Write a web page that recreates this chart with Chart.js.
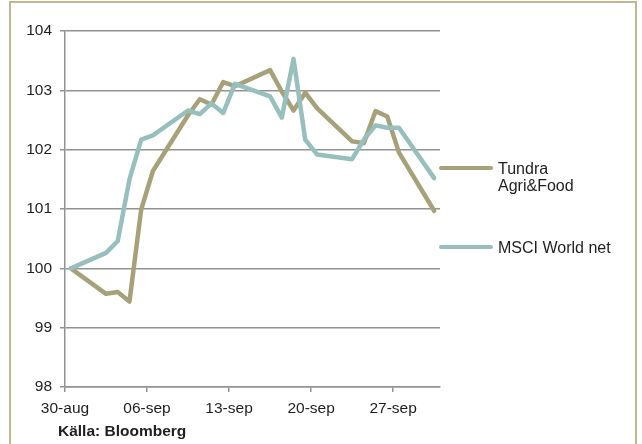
<!DOCTYPE html>
<html>
<head>
<meta charset="utf-8">
<script src="https://cdn.jsdelivr.net/npm/chart.js@4/dist/chart.umd.min.js"></script>
<style>
    html, body {
        margin: 0;
        padding: 0;
        background: #ffffff;
        font-family: "Liberation Sans", Arial, sans-serif;
    }
    #wrap {
        position: relative;
        width: 642px;
        height: 444px;
        overflow: hidden;
    }
    #frame {
        position: absolute;
        left: 9px;
        top: 1px;
        width: 624px;
        height: 460px;
        border: 2px solid #bdb88f;
        border-bottom: none;
    }
    #chart {
        position: absolute;
        left: 0;
        top: 0;
    }
    .legend-item {
        position: absolute;
        left: 439px;
        font-size: 16px;
        line-height: 17px;
        color: #1e1e1e;
    }
    .legend-item .swatch {
        position: absolute;
        left: 0;
        top: 6px;
        width: 54px;
        height: 4px;
        border-radius: 2px;
    }
    .legend-item .text {
        margin-left: 59px;
        white-space: nowrap;
    }
    #source {
        position: absolute;
        left: 58px;
        top: 422px;
        font-size: 15.5px;
        font-weight: bold;
        color: #1e1e1e;
    }
</style>
</head>
<body>
<div id="wrap">
    <div id="frame"></div>
    <canvas id="chart" width="642" height="444"></canvas>
    <div id="legend"></div>
    <div id="source">Källa: Bloomberg</div>
</div>
<script>
const startDate = "2013-08-30";
const dates = [
    "2013-08-30", "2013-09-02", "2013-09-03", "2013-09-04", "2013-09-05", "2013-09-06",
    "2013-09-09", "2013-09-10", "2013-09-11", "2013-09-12", "2013-09-13",
    "2013-09-16", "2013-09-17", "2013-09-18", "2013-09-19", "2013-09-20",
    "2013-09-23", "2013-09-24", "2013-09-25", "2013-09-26", "2013-09-27",
    "2013-09-30"
];
const tundra = [
    100.00, 99.57, 99.60, 99.44, 100.99, 101.64,
    102.58, 102.85, 102.76, 103.14, 103.07,
    103.34, 102.98, 102.66, 102.96, 102.70,
    102.14, 102.11, 102.65, 102.56, 101.95,
    100.97
];
const msciWorld = [
    100.00, 100.26, 100.46, 101.50, 102.17, 102.24,
    102.66, 102.60, 102.78, 102.62, 103.11,
    102.90, 102.54, 103.53, 102.17, 101.92,
    101.84, 102.17, 102.41, 102.37, 102.37,
    101.52
];
const seriesNames = [["Tundra", "Agri&Food"], ["MSCI World net"]];
const seriesColors = ["#a6a178", "#97bfbd"];
const tickDays = [0, 7, 14, 21, 28];
const tickLabels = ["30-aug", "06-sep", "13-sep", "20-sep", "27-sep"];

const fontFamily = '"Liberation Sans", Arial, sans-serif';
const gridColor = "#929292";

// days since start, centred in the day like the original date axis
function dayOf(d) {
    return (Date.parse(d) - Date.parse(startDate)) / 864e5 + 0.5;
}

function toPoints(values) {
    return dates.map((d, i) => ({ x: dayOf(d), y: values[i] }));
}

const ctx = document.getElementById("chart").getContext("2d");
new Chart(ctx, {
    type: "line",
    data: {
        datasets: [{
            label: seriesNames[0].join(" "),
            data: toPoints(tundra),
            borderColor: seriesColors[0],
            borderWidth: 4.5,
            borderJoinStyle: "round",
            borderCapStyle: "round",
            pointRadius: 0,
            tension: 0,
            fill: false,
            order: 1
        }, {
            label: seriesNames[1].join(" "),
            data: toPoints(msciWorld),
            borderColor: seriesColors[1],
            borderWidth: 4.5,
            borderJoinStyle: "round",
            borderCapStyle: "round",
            pointRadius: 0,
            tension: 0,
            fill: false,
            order: 0
        }]
    },
    options: {
        responsive: false,
        animation: false,
        layout: {
            padding: { top: 31, right: 202, bottom: 0, left: 0 }
        },
        plugins: {
            legend: { display: false },
            tooltip: { enabled: false }
        },
        scales: {
            x: {
                type: "linear",
                min: 0,
                max: 32,
                afterBuildTicks: (scale) => {
                    scale.ticks = tickDays.map(v => ({ value: v }));
                },
                afterFit: (scale) => {
                    scale.height = 57;
                },
                ticks: {
                    callback: (value) => tickLabels[tickDays.indexOf(value)],
                    autoSkip: false,
                    maxRotation: 0,
                    padding: 7,
                    color: "#1e1e1e",
                    font: { family: fontFamily, size: 15.5 }
                },
                grid: {
                    drawOnChartArea: false,
                    tickLength: 5,
                    color: gridColor,
                    lineWidth: 1.5
                },
                border: { color: gridColor, width: 1.5 }
            },
            y: {
                min: 98,
                max: 104,
                afterFit: (scale) => {
                    scale.width = 65;
                },
                ticks: {
                    stepSize: 1,
                    padding: 8,
                    color: "#1e1e1e",
                    font: { family: fontFamily, size: 15.5 }
                },
                grid: {
                    tickLength: 5,
                    color: gridColor,
                    lineWidth: 1.5
                },
                border: { color: gridColor, width: 1.5 }
            }
        }
    }
});

// legend on the right, drawn as html
const legendTops = [160, 239];
const legend = document.getElementById("legend");
seriesNames.forEach((name, i) => {
    const item = document.createElement("div");
    item.className = "legend-item";
    item.style.top = legendTops[i] + "px";

    const swatch = document.createElement("div");
    swatch.className = "swatch";
    swatch.style.background = seriesColors[i];
    item.appendChild(swatch);

    const text = document.createElement("div");
    text.className = "text";
    text.innerHTML = name.join("<br>");
    item.appendChild(text);

    legend.appendChild(item);
});
</script>
</body>
</html>
